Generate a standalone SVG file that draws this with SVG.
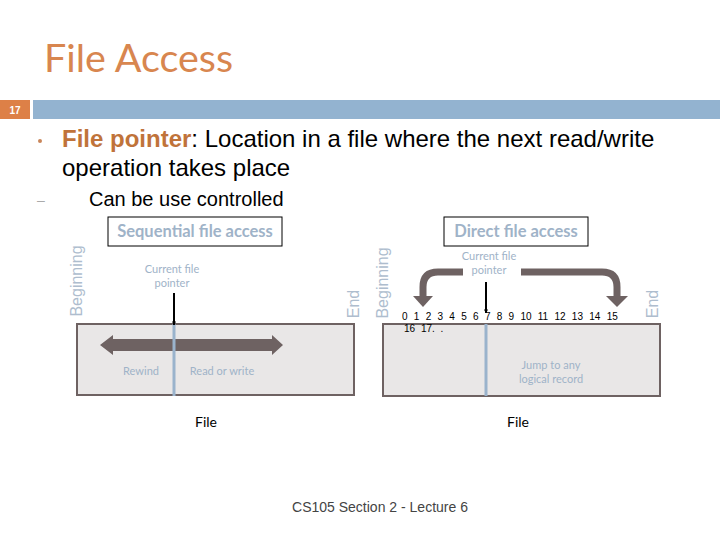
<svg xmlns="http://www.w3.org/2000/svg" width="720" height="540" viewBox="0 0 720 540">
<style>
.cal{font-family:Lato,"Open Sans","Liberation Sans",sans-serif}
.ar{font-family:"Liberation Sans",Arial,sans-serif}
.lbl{fill:#9fb3c8;font-size:11px;text-anchor:middle}
.hdr{fill:#9fb3c8;font-size:16.5px;font-weight:bold;text-anchor:middle}
.rot{fill:#aebdce;font-size:16px;text-anchor:middle}
.box{fill:#e9e7e7;stroke:#6e6262;stroke-width:2}
.ptr{stroke:#9ab3cc;stroke-width:3}
.hbox{fill:#fff;stroke:#000;stroke-width:1}
.blk{stroke:#000;stroke-width:2;fill:none}
.curve{stroke:#6e6262;stroke-width:7;fill:none}
.head{fill:#6e6262}
</style>
<defs>
<marker id="ah" viewBox="0 0 10 10" refX="9" refY="5" markerWidth="4" markerHeight="4" orient="auto" markerUnits="userSpaceOnUse">
<path d="M0,0 L10,5 L0,10 z" fill="#000"/>
</marker>
</defs>
<rect width="720" height="540" fill="#fff"/>
<text x="44" y="72" class="cal" font-size="39.5" fill="#d8864f">File Access</text>
<rect x="0" y="100" width="30" height="19" fill="#dd8047"/>
<text x="15" y="114" class="ar" font-size="10" font-weight="bold" fill="#fff" text-anchor="middle">17</text>
<rect x="33" y="100" width="687" height="19" fill="#93b3d0"/>
<circle cx="40" cy="141" r="2" fill="#c9865a"/>
<text x="62" y="147" class="ar" font-size="24" fill="#000"><tspan font-weight="bold" fill="#c0733a">File pointer</tspan>: Location in a file where the next read/write</text>
<text x="62" y="176" class="ar" font-size="24" fill="#000">operation takes place</text>
<text x="37" y="205" class="ar" font-size="14" fill="#aaa">–</text>
<text x="89" y="206" class="ar" font-size="20" fill="#000">Can be use controlled</text>

<g id="seq">
<rect class="hbox" x="108" y="217" width="174" height="29"/>
<text class="cal hdr" x="195" y="237">Sequential file access</text>
</g>
<g id="seq-file">
<rect class="box" x="77" y="324" width="277" height="71"/>
<polygon class="head" points="100,345 113,335 113,339 272,339 272,335 283,345 272,355 272,351 113,351 113,355"/>
<line class="ptr" x1="174" y1="324" x2="174" y2="396"/>
<text class="cal lbl" x="141" y="375">Rewind</text>
<text class="cal lbl" x="222" y="375">Read or write</text>
<text class="cal lbl" x="172" y="273">Current file</text>
<text class="cal lbl" x="172" y="287">pointer</text>
<text class="ar rot" transform="translate(82,281) rotate(-90)">Beginning</text>
<text class="ar rot" font-size="15" transform="translate(359,304) rotate(-90)">End</text>
<text class="cal" x="206" y="427" font-size="14" text-anchor="middle" fill="#000">File</text>
</g>

<g id="direct">
<rect class="hbox" x="444" y="217" width="144" height="29"/>
<text class="cal hdr" x="516" y="237">Direct file access</text>
</g>
<g id="direct-file">
<rect class="box" x="383" y="324" width="277" height="72"/>
<line class="ptr" x1="486" y1="324" x2="486" y2="396"/>
<text class="cal lbl" x="551" y="369">Jump to any</text>
<text class="cal lbl" x="551" y="383">logical record</text>
<text class="cal lbl" x="489" y="260">Current file</text>
<text class="cal lbl" x="489" y="274">pointer</text>
<text class="ar rot" transform="translate(388,283) rotate(-90)">Beginning</text>
<text class="ar rot" font-size="15" transform="translate(658,304) rotate(-90)">End</text>
<text class="ar" x="402" y="320" font-size="10" fill="#000" word-spacing="3.5">0 1 2 3 4 5 6 7 8 9 10 11 12 13 14 15</text>
<text class="ar" x="404" y="332" font-size="10" fill="#000" word-spacing="3">16 17. .</text>
<text class="cal" x="518" y="427" font-size="14" text-anchor="middle" fill="#000">File</text>
</g>

<g id="connectors">
<line class="blk" x1="174" y1="293" x2="174" y2="325" marker-end="url(#ah)"/>
<line class="blk" x1="486" y1="282" x2="486" y2="313" marker-end="url(#ah)"/>
<path class="curve" d="M463,272 L438,272 Q423,272 423,287 L423,297"/>
<polygon class="head" points="413,296 433,296 423,307"/>
<path class="curve" d="M521,272 L602,272 Q617,272 617,287 L617,297"/>
<polygon class="head" points="606,296 628,296 617,307"/>
</g>

<text class="ar" x="380" y="512" font-size="14" fill="#444" text-anchor="middle">CS105 Section 2 - Lecture 6</text>
</svg>
